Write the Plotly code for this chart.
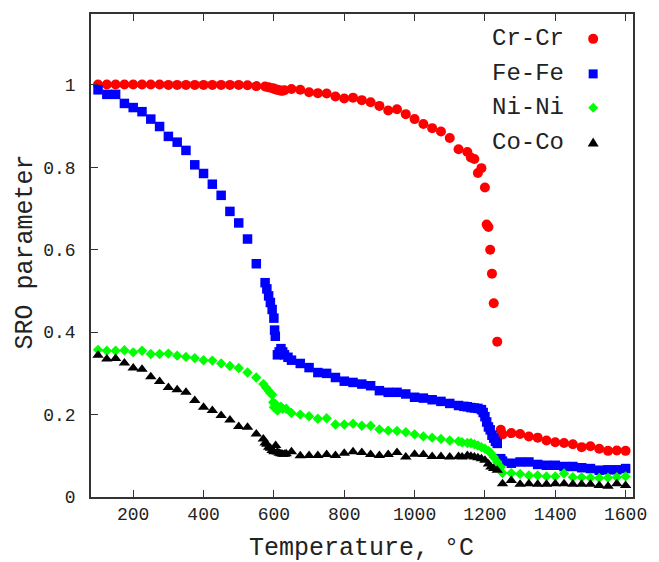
import plotly.graph_objects as go

# ---------------- data ----------------
cr_T = [100, 125, 150, 175, 200, 225, 250, 275, 300, 325, 350, 375, 400, 425, 450, 475, 500, 525, 550,
        575, 585, 595, 600, 605, 610, 615, 620, 625, 630, 650, 675, 700, 725, 750, 775, 800, 825, 850,
        875, 900, 925, 950, 975, 1000, 1025, 1050, 1075, 1100, 1125, 1150, 1160, 1170, 1180, 1190, 1200,
        1205, 1210, 1215, 1220, 1225, 1235, 1245, 1250, 1275, 1300, 1325, 1350, 1375, 1400, 1425, 1450,
        1475, 1500, 1525, 1550, 1575, 1600]
cr_v = [1.001, 1.001, 1.001, 1.001, 1.001, 1.001, 1.001, 1.001, 1.0, 1.0, 1.0, 1.0, 1.0, 1.0, 1.0, 1.0, 1.0, 0.999, 0.997,
        0.996, 0.994, 0.992, 0.991, 0.989, 0.988, 0.987, 0.986, 0.986, 0.987, 0.99, 0.988, 0.982, 0.980, 0.979, 0.972, 0.967,
        0.969, 0.963, 0.958, 0.949, 0.938, 0.941, 0.929, 0.917, 0.905, 0.895, 0.887, 0.871, 0.844, 0.837, 0.824, 0.820,
        0.786, 0.798, 0.751, 0.661, 0.655, 0.600, 0.542, 0.470, 0.377, 0.163, 0.152, 0.155, 0.153, 0.147, 0.144, 0.137,
        0.133, 0.131, 0.128, 0.121, 0.123, 0.117, 0.112, 0.113, 0.112]

fe_T = [100, 125, 150, 175, 200, 225, 250, 275, 300, 325, 350, 375, 400, 425, 450, 475, 500, 525, 550,
        575, 580, 585, 590, 595, 600, 602, 604, 610, 615, 620, 625, 630, 640, 650, 675, 700, 725, 750, 775,
        800, 825, 850, 875, 900, 925, 950, 975, 1000, 1025, 1050, 1075, 1100, 1125, 1140, 1150, 1160, 1170,
        1180, 1190, 1195, 1200, 1205, 1210, 1215, 1220, 1225, 1230, 1235, 1245, 1250, 1275, 1300, 1325, 1350,
        1375, 1400, 1425, 1450, 1475, 1500, 1525, 1550, 1575, 1600]
fe_v = [0.988, 0.977, 0.977, 0.955, 0.945, 0.935, 0.917, 0.899, 0.875, 0.861, 0.841, 0.806, 0.785, 0.759, 0.732,
        0.693, 0.665, 0.626, 0.566, 0.520, 0.505, 0.488, 0.472, 0.455, 0.434, 0.405, 0.390, 0.345, 0.352, 0.360,
        0.352, 0.345, 0.339, 0.332, 0.324, 0.314, 0.302, 0.300, 0.290, 0.281, 0.278, 0.274, 0.270, 0.258, 0.254,
        0.254, 0.250, 0.242, 0.240, 0.236, 0.232, 0.227, 0.222, 0.220, 0.219, 0.217, 0.216, 0.215, 0.212, 0.205,
        0.195, 0.182, 0.170, 0.163, 0.150, 0.143, 0.135, 0.130, 0.093, 0.087, 0.082, 0.085, 0.085, 0.079, 0.077,
        0.077, 0.074, 0.074, 0.071, 0.069, 0.065, 0.066, 0.066, 0.069]

ni_T = [100, 125, 150, 175, 200, 225, 250, 275, 300, 325, 350, 375, 400, 425, 450, 475, 500, 525, 550,
        570, 578, 585, 590, 595, 598, 600, 605, 610, 620, 625, 635, 650, 675, 700, 725, 750, 775, 800, 825,
        850, 875, 900, 925, 950, 975, 1000, 1025, 1050, 1075, 1100, 1125, 1135, 1150, 1160, 1170, 1180, 1190,
        1200, 1210, 1217, 1225, 1235, 1245, 1250, 1275, 1300, 1325, 1350, 1375, 1400, 1425, 1450, 1475, 1500,
        1525, 1550, 1575, 1600]
ni_v = [0.357, 0.355, 0.355, 0.356, 0.351, 0.355, 0.347, 0.347, 0.348, 0.343, 0.340, 0.337, 0.332, 0.331, 0.324,
        0.318, 0.313, 0.302, 0.290, 0.274, 0.265, 0.258, 0.252, 0.248, 0.230, 0.218, 0.225, 0.210, 0.219, 0.214,
        0.214, 0.204, 0.200, 0.196, 0.190, 0.191, 0.176, 0.176, 0.178, 0.173, 0.173, 0.164, 0.161, 0.160, 0.157,
        0.152, 0.147, 0.144, 0.141, 0.137, 0.135, 0.133, 0.131, 0.131, 0.128, 0.125, 0.121, 0.117, 0.112, 0.106,
        0.097, 0.085, 0.073, 0.058, 0.058, 0.056, 0.052, 0.052, 0.050, 0.050, 0.057, 0.048, 0.048, 0.047, 0.046,
        0.047, 0.048, 0.050]

co_T = [100, 125, 150, 175, 200, 225, 250, 275, 300, 325, 350, 375, 400, 425, 450, 475, 500, 525, 550,
        570, 575, 580, 585, 590, 595, 600, 605, 610, 615, 620, 625, 630, 635, 650, 675, 700, 725, 750, 775,
        800, 825, 850, 875, 900, 925, 950, 975, 1000, 1025, 1050, 1075, 1100, 1125, 1135, 1150, 1160, 1170,
        1180, 1190, 1200, 1210, 1217, 1225, 1235, 1250, 1275, 1300, 1325, 1350, 1375, 1400, 1425, 1450, 1475,
        1500, 1525, 1550, 1575, 1600]
co_v = [0.344, 0.335, 0.336, 0.325, 0.313, 0.310, 0.292, 0.280, 0.266, 0.260, 0.254, 0.234, 0.218, 0.210, 0.198,
        0.187, 0.171, 0.169, 0.153, 0.141, 0.131, 0.128, 0.121, 0.118, 0.113, 0.110, 0.125, 0.109, 0.106, 0.105,
        0.104, 0.104, 0.105, 0.110, 0.100, 0.101, 0.101, 0.103, 0.101, 0.106, 0.110, 0.108, 0.103, 0.101, 0.103,
        0.108, 0.097, 0.104, 0.103, 0.098, 0.098, 0.097, 0.098, 0.097, 0.101, 0.099, 0.097, 0.095, 0.093, 0.089,
        0.080, 0.073, 0.069, 0.065, 0.032, 0.040, 0.031, 0.032, 0.031, 0.031, 0.032, 0.032, 0.031, 0.031, 0.031,
        0.028, 0.026, 0.032, 0.028]

series_names = ["Cr-Cr", "Fe-Fe", "Ni-Ni", "Co-Co"]
x_ticks = [200, 400, 600, 800, 1000, 1200, 1400, 1600]
y_ticks = [0, 0.2, 0.4, 0.6, 0.8, 1.0]
y_ticklabels = ["0", "0.2", "0.4", "0.6", "0.8", "1"]

# ---------------- styling ----------------
FONT = "Liberation Mono, Courier New, monospace"
colors = ["#ff0000", "#0000ff", "#00ff00", "#000000"]
symbols = ["circle", "square", "diamond", "triangle-up"]
sizes = [10, 9.5, 8, 10]

fig = go.Figure()
for (T, v), name, c, s, sz in zip([(cr_T, cr_v), (fe_T, fe_v), (ni_T, ni_v), (co_T, co_v)],
                                  series_names, colors, symbols, sizes):
    fig.add_trace(go.Scatter(x=T, y=v, mode="markers", name=name,
                             marker=dict(color=c, symbol=s, size=sz, line=dict(width=0))))

# manual legend (text left of symbol, as in reference)
leg_y = [0.9485, 0.876, 0.806, 0.734]
shapes = []
annotations = []
for i, (name, c) in enumerate(zip(series_names, colors)):
    annotations.append(dict(x=0.877, y=leg_y[i], xref="paper", yref="paper", text=name,
                            showarrow=False, xanchor="right", yanchor="middle",
                            font=dict(family=FONT, size=24, color="#222222")))
sx = 0.9265
shapes.append(dict(type="circle", xref="paper", yref="paper", xsizemode="pixel", ysizemode="pixel",
                   xanchor=sx, yanchor=leg_y[0], x0=-5, x1=5, y0=-5, y1=5,
                   fillcolor=colors[0], line=dict(width=0)))
shapes.append(dict(type="rect", xref="paper", yref="paper", xsizemode="pixel", ysizemode="pixel",
                   xanchor=sx, yanchor=leg_y[1], x0=-4.5, x1=4.5, y0=-4.5, y1=4.5,
                   fillcolor=colors[1], line=dict(width=0)))
shapes.append(dict(type="path", xref="paper", yref="paper", xsizemode="pixel", ysizemode="pixel",
                   xanchor=sx, yanchor=leg_y[2], path="M -5 0 L 0 5 L 5 0 L 0 -5 Z",
                   fillcolor=colors[2], line=dict(width=0)))
shapes.append(dict(type="path", xref="paper", yref="paper", xsizemode="pixel", ysizemode="pixel",
                   xanchor=sx, yanchor=leg_y[3], path="M -5.5 -4 L 5.5 -4 L 0 5 Z",
                   fillcolor=colors[3], line=dict(width=0)))

# axis titles
annotations.append(dict(x=0.499, y=-0.106, xref="paper", yref="paper", text="Temperature, °C",
                        showarrow=False, xanchor="center", yanchor="middle",
                        font=dict(family=FONT, size=25, color="#222222")))
annotations.append(dict(x=-0.121, y=0.507, xref="paper", yref="paper", text="SRO parameter",
                        showarrow=False, xanchor="center", yanchor="middle", textangle=-90,
                        font=dict(family=FONT, size=25, color="#222222")))

fig.update_layout(
    width=659, height=562,
    margin=dict(l=91, r=24, t=12, b=65),
    paper_bgcolor="white", plot_bgcolor="white",
    showlegend=False,
    shapes=shapes, annotations=annotations,
    font=dict(family=FONT, size=18, color="#222222"),
    xaxis=dict(range=[80, 1621], tickvals=x_ticks, ticks="inside", ticklen=7, tickwidth=1.2,
               tickcolor="#333333", showline=True, linecolor="#333333", linewidth=1.5, mirror="ticks",
               showgrid=False, zeroline=False, tickfont=dict(family=FONT, size=18, color="#222222")),
    yaxis=dict(range=[0, 1.172], tickvals=y_ticks, ticktext=y_ticklabels, ticks="inside", ticklen=7,
               tickwidth=1.2, tickcolor="#333333", showline=True, linecolor="#333333", linewidth=1.5,
               mirror=True, showgrid=False, zeroline=False, ticklabelstandoff=10,
               tickfont=dict(family=FONT, size=18, color="#222222")),
)

fig.write_html("out.html", config={"displayModeBar": False},
               post_script="document.body.style.margin='0';document.body.style.overflow='hidden';")
